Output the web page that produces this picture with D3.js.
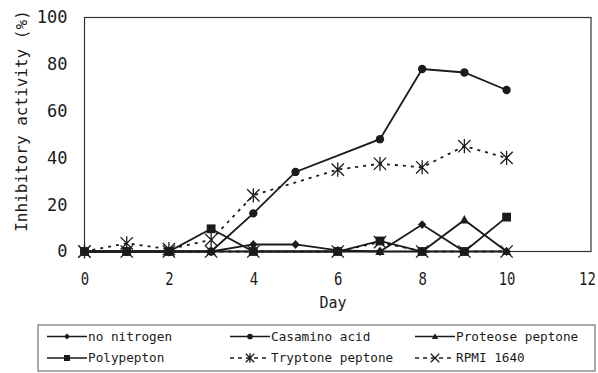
<!DOCTYPE html>
<html>
<head>
<meta charset="utf-8">
<script src="https://cdn.jsdelivr.net/npm/d3@7"></script>
<style>
  body { margin: 0; background: #fff; }
  svg { display: block; }
  text { font-family: "DejaVu Sans Mono", monospace; fill: #1b1b1b; }
</style>
</head>
<body>
<svg width="598" height="373"></svg>
<script>
// ---- data ----
const days         = [0, 1, 2, 3, 4, 5, 6, 7, 8, 9, 10];
const noNitrogen   = [0, 0, 0, 0, 3, 3, 0.5, 0, 11.5, 0, 0];
const casaminoAcid = [0, 0, 0, 0, 16.3, 34, null, 48, 78, 76.5, 69];
const proteose     = [0, 0, 0, 0, 0, null, 0, 0, 0, 13.5, 0];
const polypepton   = [0, 0, 0, 9.7, 0, null, 0, 4.5, 0, 0, 14.7];
const tryptone     = [0, 3.5, 1, 5, 24, null, 35, 37.5, 36, 45, 40];
const rpmi         = [0, 0, 0, 0, 0, null, 0, 4, 0, 0, 0];

const seriesNames = ["no nitrogen", "Casamino acid", "Proteose peptone",
                     "Polypepton", "Tryptone peptone", "RPMI 1640"];
const seriesValues = [noNitrogen, casaminoAcid, proteose, polypepton, tryptone, rpmi];

const xTicks = [0, 2, 4, 6, 8, 10, 12];
const yTicks = [0, 20, 40, 60, 80, 100];

// ---- look of each series ----
const style = {
  "no nitrogen":      { marker: "diamond",  dash: null },
  "Casamino acid":    { marker: "circle",   dash: null },
  "Proteose peptone": { marker: "triangle", dash: null },
  "Polypepton":       { marker: "square",   dash: null },
  "Tryptone peptone": { marker: "asterisk", dash: "3,5" },
  "RPMI 1640":        { marker: "times",    dash: "3,5" }
};

const ink = "#1b1b1b";
const svg = d3.select("svg");

const x = d3.scaleLinear().domain([0, 12]).range([84.5, 591]);
const y = d3.scaleLinear().domain([0, 100]).range([251.5, 17.5]);

// plot frame
svg.append("rect")
  .attr("x", x(0)).attr("y", y(100))
  .attr("width", x(12) - x(0)).attr("height", y(0) - y(100))
  .attr("fill", "none").attr("stroke", "#333").attr("stroke-width", 1.2);

// axes (labels only, like the original) - the original font is a narrow gothic
const yAxis = svg.append("g")
  .attr("transform", `translate(${x(0)},0)`)
  .call(d3.axisLeft(y).tickValues(yTicks).tickSize(0).tickPadding(17));
yAxis.select(".domain").remove();
yAxis.selectAll("text").style("font-size", "17px").attr("fill", ink);

const xAxis = svg.append("g")
  .attr("transform", `translate(0,${y(0)})`)
  .call(d3.axisBottom(x).tickValues(xTicks).tickSize(0).tickPadding(21));
xAxis.select(".domain").remove();
xAxis.selectAll("text")
  .style("font-size", "17px")
  .attr("fill", ink)
  .attr("transform", "scale(0.82,1)")
  .attr("x", d => d === 12 ? -5 : 0); // last label sits against the edge

svg.append("text")
  .attr("x", 333).attr("y", 308)
  .attr("text-anchor", "middle")
  .style("font-size", "15px")
  .text("Day");

svg.append("text")
  .attr("transform", "translate(21,121) rotate(-90)")
  .attr("text-anchor", "middle")
  .attr("dy", "0.35em")
  .style("font-size", "16px")
  .text("Inhibitory activity (%)");

// marker drawing
function drawMarker(g, type, cx, cy, s) {
  if (type === "circle") {
    g.append("circle").attr("cx", cx).attr("cy", cy).attr("r", s * 0.95).attr("fill", ink);
  } else if (type === "square") {
    g.append("rect").attr("x", cx - s).attr("y", cy - s)
      .attr("width", 2 * s).attr("height", 2 * s).attr("fill", ink);
  } else if (type === "diamond") {
    g.append("path")
      .attr("d", `M${cx},${cy - s}L${cx + s * 0.95},${cy}L${cx},${cy + s}L${cx - s * 0.95},${cy}Z`)
      .attr("fill", ink);
  } else if (type === "triangle") {
    g.append("path")
      .attr("d", `M${cx},${cy - s * 1.1}L${cx + s * 1.05},${cy + s * 0.8}L${cx - s * 1.05},${cy + s * 0.8}Z`)
      .attr("fill", ink);
  } else if (type === "times" || type === "asterisk") {
    const a = s * 1.4;
    let d = `M${cx - a},${cy - a}L${cx + a},${cy + a}M${cx - a},${cy + a}L${cx + a},${cy - a}`;
    if (type === "asterisk") d += `M${cx},${cy - a * 1.15}L${cx},${cy + a * 1.15}`;
    g.append("path").attr("d", d).attr("fill", "none")
      .attr("stroke", ink).attr("stroke-width", 1.3);
  }
}

const line = d3.line().x(d => x(d.day)).y(d => y(d.value));

seriesNames.forEach((name, i) => {
  const pts = days.map((d, j) => ({ day: d, value: seriesValues[i][j] }))
                  .filter(p => p.value !== null);
  const g = svg.append("g");
  g.append("path")
    .datum(pts)
    .attr("d", line)
    .attr("fill", "none")
    .attr("stroke", ink)
    .attr("stroke-width", 1.8)
    .attr("stroke-dasharray", style[name].dash);
  pts.forEach(p => drawMarker(g, style[name].marker, x(p.day), y(p.value), 4.4));
});

// legend
svg.append("rect")
  .attr("x", 38).attr("y", 325).attr("width", 557).attr("height", 46)
  .attr("fill", "#fff").attr("stroke", "#555").attr("stroke-width", 1);

const legendCols = [47, 230, 415];
const legendRows = [336.5, 358];
seriesNames.forEach((name, i) => {
  const lx = legendCols[i % 3], ly = legendRows[Math.floor(i / 3)];
  const g = svg.append("g");
  g.append("line")
    .attr("x1", lx).attr("x2", lx + 40).attr("y1", ly).attr("y2", ly)
    .attr("stroke", ink).attr("stroke-width", 1.6)
    .attr("stroke-dasharray", style[name].dash ? "4,4" : null);
  drawMarker(g, style[name].marker, lx + 20, ly, 3);
  g.append("text")
    .attr("x", lx + 41).attr("y", ly).attr("dy", "0.35em")
    .style("font-size", "12.7px")
    .text(name);
});
</script>
</body>
</html>
